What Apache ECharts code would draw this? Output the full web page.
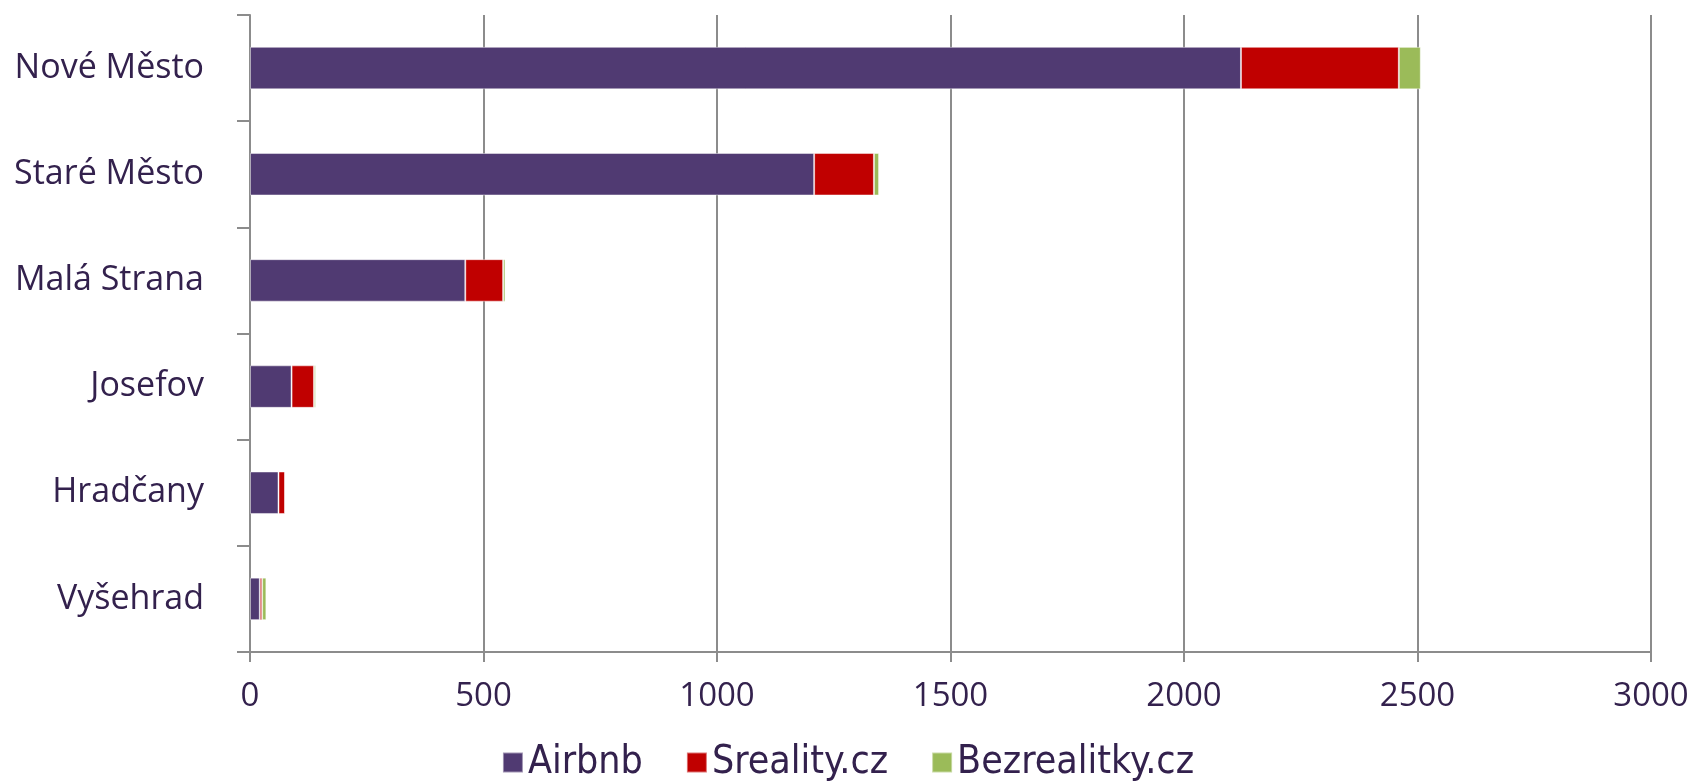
<!DOCTYPE html>
<html>
<head>
<meta charset="utf-8">
<script src="https://cdn.jsdelivr.net/npm/echarts@6/dist/echarts.min.js"></script>
<style>
  html, body { margin: 0; padding: 0; background: #ffffff; }
  #chart { width: 1696px; height: 782px; }
</style>
</head>
<body>
<div id="chart"></div>
<script>
// Prague districts, listings per platform
const districts = ['Nové Město', 'Staré Město', 'Malá Strana', 'Josefov', 'Hradčany', 'Vyšehrad'];
const airbnb = [2122, 1208, 461, 89, 61, 21];
const sreality = [338, 128, 81, 48, 14, 5];
const bezrealitky = [47, 11, 5, 4, 1, 9];
const xTicks = { min: 0, max: 3000, interval: 500 };

const textColor = '#33214d';
const lineColor = '#8c8c8c';

// category axis runs bottom-up, so reverse to keep first district on top
const cats = districts.slice().reverse();
const rev = a => a.slice().reverse();

const chart = echarts.init(document.getElementById('chart'), null, { renderer: 'canvas' });

const barStyle = color => ({
  color: color,
  borderColor: 'rgba(255,255,255,0.45)',
  borderWidth: 1
});

chart.setOption({
  animation: false,
  textStyle: { fontFamily: 'Open Sans' },
  grid: { left: 250, right: 45, top: 15, bottom: 130, containLabel: false },
  legend: {
    top: 738,
    left: 'center',
    itemWidth: 20,
    itemHeight: 20,
    itemGap: 43,
    icon: 'rect',
    textStyle: {
      fontFamily: 'DejaVu Sans Condensed',
      fontSize: 39,
      color: textColor
    },
    data: ['Airbnb', 'Sreality.cz', 'Bezrealitky.cz']
  },
  xAxis: {
    type: 'value',
    min: xTicks.min,
    max: xTicks.max,
    interval: xTicks.interval,
    axisLine: { show: true, lineStyle: { color: lineColor, width: 2 } },
    axisTick: { show: true, length: 10, lineStyle: { color: lineColor, width: 2 } },
    splitLine: { show: true, lineStyle: { color: lineColor, width: 2 } },
    axisLabel: {
      color: textColor,
      fontSize: 33,
      margin: 28,
      formatter: v => String(v)
    }
  },
  yAxis: {
    type: 'category',
    data: cats,
    axisLine: { show: true, lineStyle: { color: lineColor, width: 2 } },
    axisTick: { show: true, length: 13, lineStyle: { color: lineColor, width: 2 } },
    axisLabel: { color: textColor, fontSize: 34, margin: 46 }
  },
  series: [
    { name: 'Airbnb', type: 'bar', stack: 'total', barCategoryGap: '60%', data: rev(airbnb), itemStyle: barStyle('#503a72') },
    { name: 'Sreality.cz', type: 'bar', stack: 'total', data: rev(sreality), itemStyle: barStyle('#c00000') },
    { name: 'Bezrealitky.cz', type: 'bar', stack: 'total', data: rev(bezrealitky), itemStyle: barStyle('#9bbb59') }
  ]
});
</script>
</body>
</html>
